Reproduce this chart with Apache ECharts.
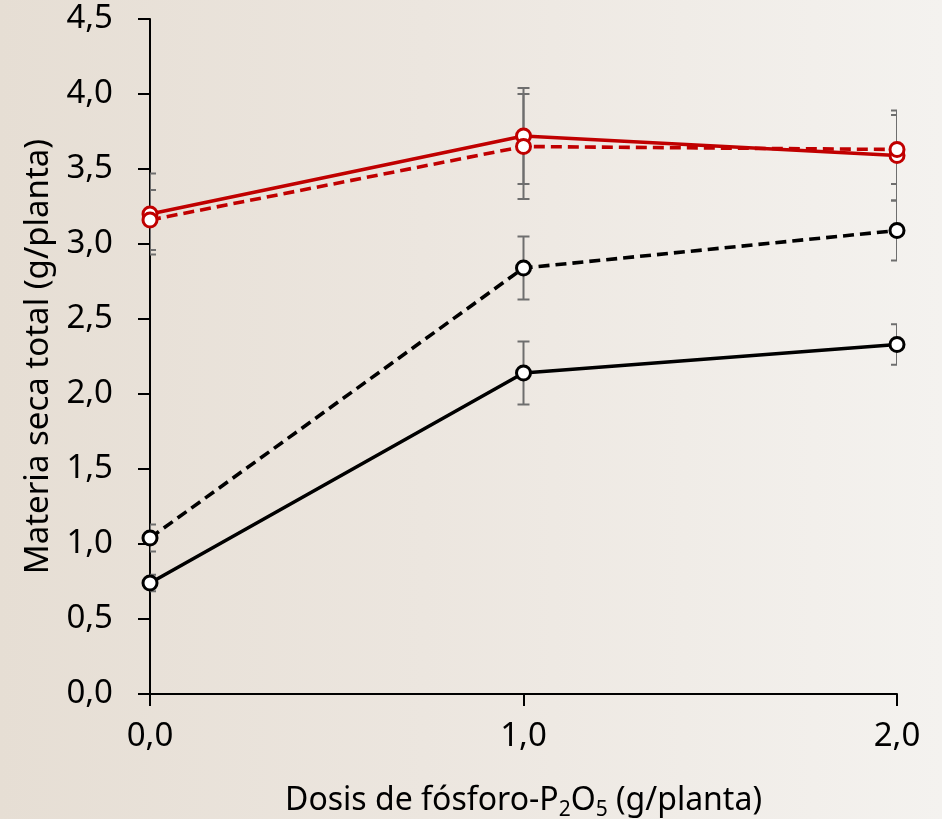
<!DOCTYPE html>
<html>
<head>
<meta charset="utf-8">
<script src="https://cdn.jsdelivr.net/npm/echarts@6/dist/echarts.min.js"></script>
<style>
  html, body { margin: 0; padding: 0; }
  #chart {
    width: 942px; height: 819px;
    background: linear-gradient(to right, #e6ded4 0%, #ece6df 45%, #f4f2ef 100%);
  }
</style>
</head>
<body>
<div id="chart"></div>
<script>
// Phosphorus dose (g/plant)
const doses = [0, 1, 2];
const xTickLabels = ['0,0', '1,0', '2,0'];

// Total dry matter (g/plant) and standard errors per series
const redSolid = [3.20, 3.72, 3.59];
const redSolidErr = [0.27, 0.32, 0.30];
const redDashed = [3.16, 3.65, 3.63];
const redDashedErr = [0.20, 0.35, 0.23];
const blackDashed = [1.04, 2.84, 3.09];
const blackDashedErr = [0.09, 0.21, 0.20];
const blackSolid = [0.74, 2.14, 2.33];
const blackSolidErr = [0.055, 0.21, 0.135];

const FONT = 'Noto Sans';
const RED = '#c00000';
const BLACK = '#000000';

const chart = echarts.init(document.getElementById('chart'), null, { renderer: 'canvas' });

function pairs(vals) { return doses.map((d, i) => [d, vals[i]]); }

function errorData(vals, errs) {
  return doses.map((d, i) => [d, vals[i] - errs[i], vals[i] + errs[i]]);
}

function errorSeries(vals, errs) {
  return {
    type: 'custom',
    z: 1,
    clip: true,
    silent: true,
    data: errorData(vals, errs),
    encode: { x: 0, y: [1, 2] },
    renderItem: function (params, api) {
      const x = api.value(0);
      const lo = api.coord([x, api.value(1)]);
      const hi = api.coord([x, api.value(2)]);
      const w = 6;
      const style = { stroke: '#6e6e6e', lineWidth: 2, fill: null };
      return {
        type: 'group',
        children: [
          { type: 'line', shape: { x1: lo[0], y1: lo[1], x2: hi[0], y2: hi[1] }, style: style },
          { type: 'line', shape: { x1: lo[0] - w, y1: lo[1], x2: lo[0] + w, y2: lo[1] }, style: style },
          { type: 'line', shape: { x1: hi[0] - w, y1: hi[1], x2: hi[0] + w, y2: hi[1] }, style: style }
        ]
      };
    }
  };
}

function lineSeries(vals, color, dashed) {
  return {
    type: 'line',
    z: 3,
    data: pairs(vals),
    symbol: 'circle',
    symbolSize: 14,
    showAllSymbol: true,
    lineStyle: { color: color, width: 3.6, type: dashed ? [11, 6] : 'solid' },
    itemStyle: { color: '#ffffff', borderColor: color, borderWidth: 3 },
    emphasis: { disabled: true },
    animation: false
  };
}

chart.setOption({
  animation: false,
  backgroundColor: 'transparent',
  grid: { left: 150, right: 45, top: 19, bottom: 125, containLabel: false, outerBoundsMode: 'none' },
  xAxis: {
    type: 'value',
    min: 0,
    max: 2,
    interval: 1,
    name: 'Dosis de fósforo-P{sub|2}O{sub|5} (g/planta)',
    nameLocation: 'middle',
    nameGap: 87,
    nameTextStyle: {
      fontFamily: FONT, fontSize: 32, color: '#000', lineHeight: 40,
      rich: { sub: { fontFamily: FONT, fontSize: 21, lineHeight: 18, verticalAlign: 'bottom', color: '#000' } }
    },
    axisLine: { show: true, onZero: false, lineStyle: { color: '#000', width: 2 } },
    axisTick: { show: true, length: 12, lineStyle: { color: '#000', width: 2 } },
    axisLabel: {
      fontFamily: FONT, fontSize: 33, color: '#000', margin: 26,
      formatter: function (v) { return xTickLabels[doses.indexOf(v)]; }
    },
    splitLine: { show: false }
  },
  yAxis: {
    type: 'value',
    min: 0,
    max: 4.5,
    interval: 0.5,
    name: 'Materia seca total (g/planta)',
    nameLocation: 'middle',
    nameGap: 94,
    nameTextStyle: { fontFamily: FONT, fontSize: 33, color: '#000' },
    axisLine: { show: true, lineStyle: { color: '#000', width: 2 } },
    axisTick: { show: true, length: 12, lineStyle: { color: '#000', width: 2 } },
    axisLabel: {
      fontFamily: FONT, fontSize: 33, color: '#000', margin: 37,
      formatter: function (v) { return v.toFixed(1).replace('.', ','); }
    },
    splitLine: { show: false }
  },
  series: [
    errorSeries(redSolid, redSolidErr),
    errorSeries(redDashed, redDashedErr),
    errorSeries(blackDashed, blackDashedErr),
    errorSeries(blackSolid, blackSolidErr),
    lineSeries(blackSolid, BLACK, false),
    lineSeries(blackDashed, BLACK, true),
    lineSeries(redSolid, RED, false),
    lineSeries(redDashed, RED, true)
  ]
});
</script>
</body>
</html>
